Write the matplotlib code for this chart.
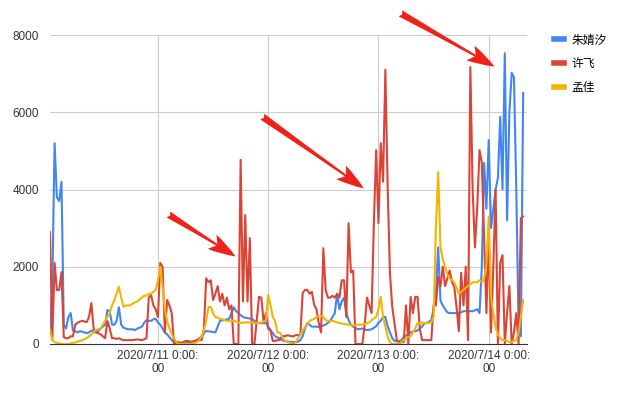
import matplotlib.pyplot as plt
from matplotlib.patches import FancyArrowPatch
import pandas as pd

plt.rcParams['font.family'] = ['Liberation Sans', 'Noto Sans CJK SC', 'DejaVu Sans']

# half-hourly samples starting 2020/7/10 00:30
START = '2020-07-10 00:30'

zhu = [400, 1500, 5200, 3800, 3700, 4200, 500, 400, 700, 800,
       350, 330, 300, 330, 320, 300, 280, 300, 350, 330,
       300, 330, 400, 450, 500, 880, 850, 500, 500, 600,
       950, 500, 420, 400, 380, 380, 380, 360, 400, 420,
       450, 550, 620, 600, 600, 640, 650, 560, 500, 400,
       300, 250, 180, 100, 50, 30, 20, 10, 10, 20,
       30, 40, 60, 80, 100, 150, 200, 280, 340, 330,
       320, 310, 300, 450, 600, 610, 620, 640, 650, 800,
       950, 850, 800, 750, 700, 680, 670, 660, 650, 600,
       550, 540, 540, 540, 540, 450, 360, 280, 200, 170,
       150, 100, 80, 70, 60, 55, 50, 55, 60, 100,
       200, 400, 540, 500, 450, 450, 450, 440, 450, 480,
       500, 550, 600, 700, 800, 1300, 900, 1100, 1200, 800,
       620, 500, 450, 420, 380, 390, 400, 380, 360, 370,
       380, 420, 460, 550, 600, 700, 700, 460, 300, 150,
       80, 70, 60, 100, 180, 220, 250, 300, 320, 330,
       350, 400, 450, 540, 540, 580, 620, 900, 1320, 2500,
       1120, 1000, 900, 820, 800, 800, 800, 800, 800, 820,
       850, 850, 850, 850, 850, 870, 900, 800, 2000, 4690,
       3500, 5280, 3000, 3500, 4000, 4300, 5880, 4000, 7530, 3200,
       6000, 7020, 6900, 4000, 500, 200, 6500]

xu = [2900, 100, 2100, 1400, 1400, 1860, 180, 150, 150, 200,
      200, 500, 550, 580, 600, 580, 570, 700, 1060, 400,
      300, 280, 250, 200, 150, 600, 400, 150, 150, 130,
      150, 120, 100, 100, 100, 100, 100, 110, 120, 110,
      100, 120, 150, 1200, 1270, 1000, 900, 700, 2100, 2000,
      300, 1140, 1000, 800, 0, 50, 50, 30, 50, 80,
      80, 60, 60, 80, 100, 100, 100, 400, 1700, 1600,
      1650, 1140, 1300, 1500, 1100, 1300, 1000, 1200, 900, 1000,
      0, 0, 0, 4770, 1100, 3340, 1100, 2740, 0, 0,
      620, 1220, 1200, 570, 800, 400, 350, 80, 80, 100,
      100, 200, 200, 220, 220, 200, 200, 230, 230, 250,
      1320, 1400, 1400, 1300, 1350, 1020, 900, 540, 300, 2480,
      1400, 1200, 1200, 1250, 1200, 1300, 1200, 1650, 1650, 700,
      3130, 1850, 1900, 0, 0, 0, 0, 500, 1200, 1000,
      800, 3130, 5020, 3130, 5200, 4200, 7100, 4060, 1840, 960,
      540, 100, 50, 50, 50, 1000, 0, 1220, 800, 1220,
      1220, 400, 100, 100, 100, 100, 100, 1000, 1000, 1740,
      1500, 2000, 1500, 1700, 1900, 1600, 1480, 950, 330, 1840,
      1000, 2000, 100, 7170, 4000, 2500, 3540, 5020, 4690, 2700,
      800, 2800, 300, 2000, 4000, 0, 2100, 2300, 0, 800,
      1500, 0, 300, 800, 0, 3260, 3300]

meng = [360, 100, 50, 20, 20, 0, 0, 0, 0, 20,
        30, 40, 60, 80, 100, 120, 150, 200, 250, 300,
        360, 380, 400, 500, 600, 700, 800, 1000, 1140, 1300,
        1480, 1200, 960, 1000, 1000, 1000, 1050, 1080, 1100, 1150,
        1200, 1250, 1250, 1300, 1300, 1350, 1400, 1650, 2000, 1500,
        880, 600, 400, 250, 150, 50, 0, 0, 0, 0,
        0, 0, 20, 30, 50, 100, 200, 360, 600, 960,
        960, 800, 700, 680, 650, 640, 620, 600, 600, 600,
        600, 580, 560, 550, 550, 560, 560, 560, 550, 540,
        540, 550, 560, 580, 600, 1270, 1000, 700, 600, 300,
        300, 200, 100, 60, 40, 20, 0, 50, 150, 250,
        350, 440, 500, 600, 620, 650, 700, 720, 720, 700,
        620, 600, 600, 600, 580, 560, 540, 530, 520, 510,
        500, 490, 480, 490, 500, 500, 500, 520, 540, 560,
        620, 660, 700, 900, 1220, 700, 460, 200, 50, 0,
        0, 0, 0, 50, 100, 150, 180, 200, 300, 400,
        540, 540, 560, 540, 540, 550, 560, 700, 3000, 4450,
        2500, 2200, 2000, 1800, 1700, 1650, 1600, 1450, 1300, 1350,
        1400, 1450, 1500, 1550, 1600, 1600, 1600, 1650, 1600, 1700,
        2070, 3300, 1200, 800, 440, 250, 150, 100, 100, 80,
        50, 50, 80, 100, 300, 700, 1140]

names = ['朱婧汐', '许飞', '孟佳']
colors = ['#4285F4', '#DB4437', '#F4B400']
day_ticks = pd.to_datetime(['2020-07-11', '2020-07-12', '2020-07-13', '2020-07-14'])

fig = plt.figure(figsize=(6.23, 3.94), dpi=100)
ax = fig.add_axes([50 / 623, 1 - 344 / 394, 477 / 623, 309 / 394])

for vals, name, c in zip([zhu, xu, meng], names, colors):
    t = pd.date_range(START, periods=len(vals), freq='30min')
    ax.plot(t, vals, color=c, lw=1.5, label=name)

ax.set_ylim(0, 8000)
ax.set_yticks([0, 2000, 4000, 6000, 8000])
ax.set_xlim(pd.Timestamp('2020-07-10 00:30'), pd.Timestamp('2020-07-14 08:20'))
ax.set_xticks(day_ticks)
ax.set_xticklabels([f'{d.year}/{d.month}/{d.day} 0:00:\n00' for d in day_ticks])
ax.grid(True, color='#cccccc', lw=0.8)
ax.set_axisbelow(True)
ax.tick_params(length=0, labelsize=8.5, labelcolor='#333333', pad=4)
ax.tick_params(axis='y', pad=8)
for s in ['top', 'right', 'left']:
    ax.spines[s].set_visible(False)
ax.spines['bottom'].set_color('#333333')

leg = fig.legend(loc='upper left', bbox_to_anchor=(543 / 623, 1 - 24 / 394), frameon=False,
                 handlelength=0.9, handletextpad=0.6, labelspacing=1.0, fontsize=8.5)
for h in leg.get_lines():
    h.set_linewidth(4)

# red arrows drawn on the screenshot
arrows = [((166, 213), (238, 258)), ((260, 115), (366, 190)), ((398, 12), (497, 68))]
for (x0, y0), (x1, y1) in arrows:
    fig.patches.append(FancyArrowPatch(
        (x0 / 623, 1 - y0 / 394), (x1 / 623, 1 - y1 / 394), transform=fig.transFigure,
        arrowstyle='fancy,head_width=12,head_length=20,tail_width=5',
        color='#f0201a', lw=0, mutation_scale=1))

fig.savefig('out.png', dpi=100)
